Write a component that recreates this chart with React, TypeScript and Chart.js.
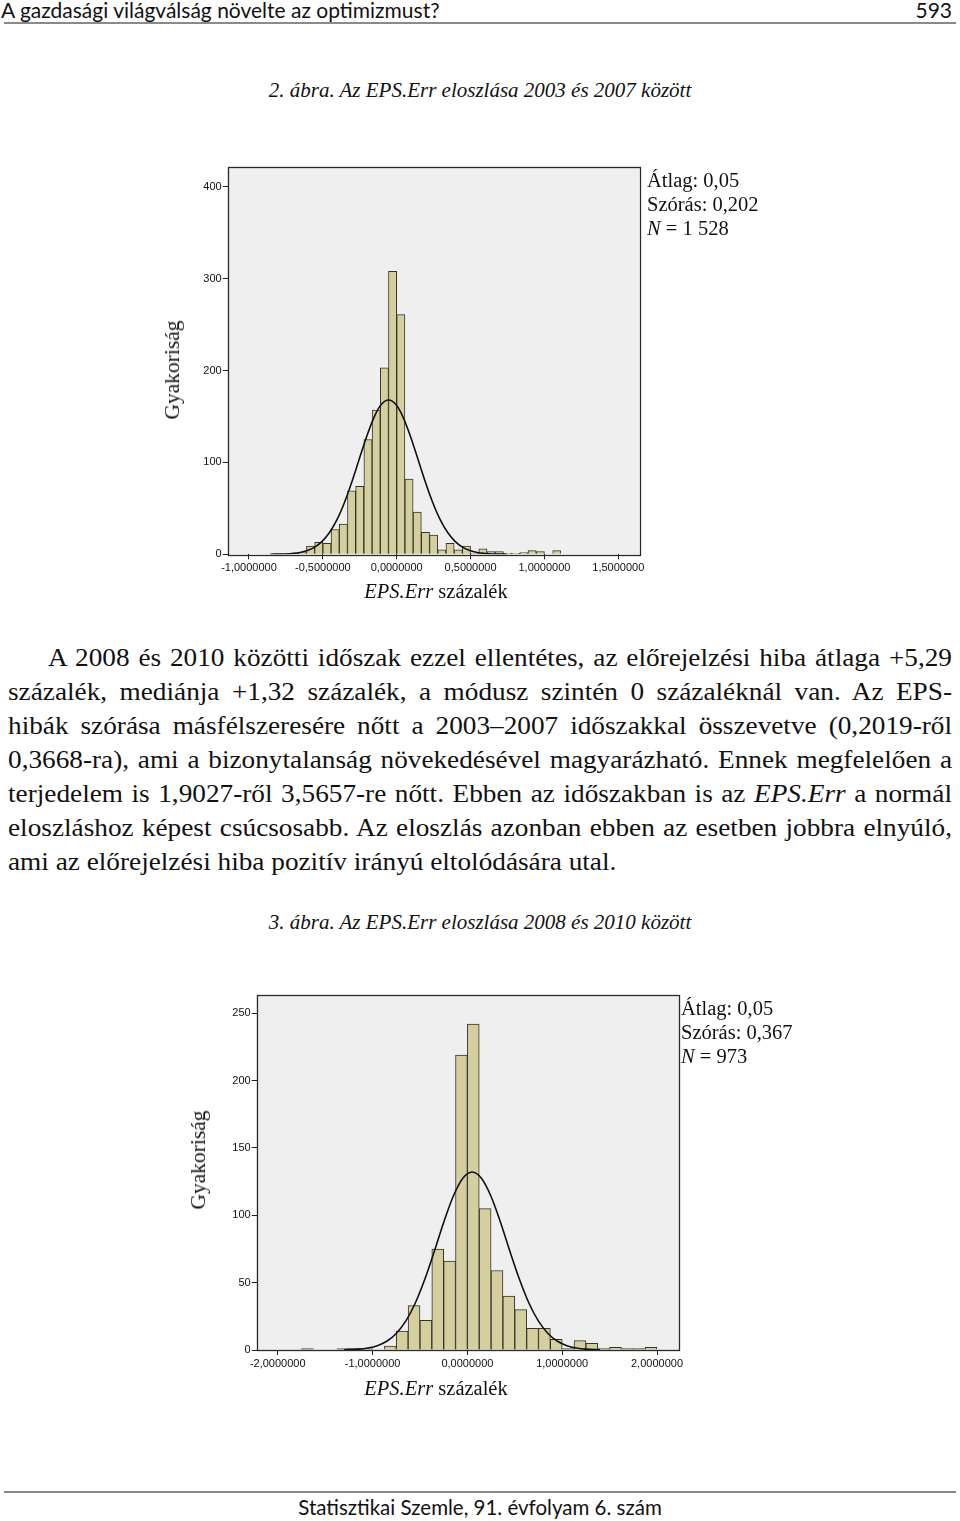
import React, { useEffect, useRef } from "react";
import { Chart, registerables } from "chart.js";

Chart.register(...registerables);

// ---------- Figure 2: 2003–2007 ----------
const bins1Lower = [
  -0.7222, -0.6667, -0.6111, -0.5556, -0.5, -0.4444, -0.3889, -0.3333, -0.2778,
  -0.2222, -0.1667, -0.1111, -0.0556, 0, 0.0556, 0.1111, 0.1667, 0.2222, 0.2778,
  0.3333, 0.3889, 0.4444, 0.5, 0.5556, 0.6111, 0.6667, 0.7222, 0.7778, 0.8333,
  0.8889, 0.9444, 1.0, 1.0556,
];
const bins1Width = 0.05556;
const counts1 = [
  1, 2, 9, 13, 12, 27, 33, 69, 74, 125, 157, 203, 308, 261, 82, 46, 24, 21, 5, 12,
  5, 9, 1, 6, 3, 3, 1, 1, 2, 4, 3, 0, 4,
];
const curve1X = [
  -0.855, -0.755, -0.705, -0.655, -0.605, -0.555, -0.505, -0.455, -0.405, -0.355,
  -0.305, -0.255, -0.205, -0.155, -0.105, -0.055, -0.005, 0.045, 0.095, 0.145,
  0.195, 0.245, 0.295, 0.345, 0.395, 0.445, 0.495, 0.545, 0.595, 0.645, 0.745,
];
const curve1Y = [
  0.07, 0.4, 0.95, 2.0, 4.1, 7.8, 14.1, 23.7, 37.4, 55.8, 78.1, 102.9, 127.5, 148.6,
  163.0, 168, 163.0, 148.6, 127.5, 102.9, 78.1, 55.8, 37.4, 23.7, 14.1, 7.8, 4.1,
  2.0, 0.95, 0.4, 0.07,
];
const xTicks1 = [-1, -0.5, 0, 0.5, 1, 1.5];
const yTicks1 = [0, 100, 200, 300, 400];
const stats1 = ["Átlag: 0,05", "Szórás: 0,202", "1 528"];

// ---------- Figure 3: 2008–2010 ----------
const bins2Lower = [
  -1.75, -1.625, -1.5, -1.375, -1.25, -1.125, -1.0, -0.875, -0.75, -0.625, -0.5,
  -0.375, -0.25, -0.125, 0, 0.125, 0.25, 0.375, 0.5, 0.625, 0.75, 0.875, 1.0, 1.125,
  1.25, 1.375, 1.5, 1.625, 1.75, 1.875,
];
const bins2Width = 0.125;
const counts2 = [
  1, 0, 0, 1, 1, 1, 0, 3, 14, 33, 22, 75, 66, 219, 242, 105, 59, 40, 30, 16, 16, 8,
  1, 7, 5, 1, 2, 1, 1, 2,
];
const curve2X = [
  -1.3, -1.15, -1.05, -0.95, -0.85, -0.75, -0.65, -0.55, -0.45, -0.35, -0.25, -0.15,
  -0.05, 0.05, 0.15, 0.25, 0.35, 0.45, 0.55, 0.65, 0.75, 0.85, 0.95, 1.05, 1.15,
  1.25, 1.4,
];
const curve2Y = [
  0.15, 0.63, 1.5, 3.2, 6.5, 12.3, 21.4, 34.7, 52.3, 73.0, 94.7, 114.0, 127.4, 132.2,
  127.4, 114.0, 94.7, 73.0, 52.3, 34.7, 21.4, 12.3, 6.5, 3.2, 1.5, 0.63, 0.15,
];
const xTicks2 = [-2, -1, 0, 1, 2];
const yTicks2 = [0, 50, 100, 150, 200, 250];
const stats2 = ["Átlag: 0,05", "Szórás: 0,367", "973"];

const paragraphLines = [
  "A 2008 és 2010 közötti időszak ezzel ellentétes, az előrejelzési hiba átlaga +5,29",
  "százalék, mediánja +1,32 százalék, a módusz szintén 0 százaléknál van. Az EPS-",
  "hibák szórása másfélszeresére nőtt a 2003–2007 időszakkal összevetve (0,2019-ről",
  "0,3668-ra), ami a bizonytalanság növekedésével magyarázható. Ennek megfelelően a",
  "@5",
  "eloszláshoz képest csúcsosabb. Az eloszlás azonban ebben az esetben jobbra elnyúló,",
  "ami az előrejelzési hiba pozitív irányú eltolódására utal.",
];

const SERIF = '"Liberation Serif", "Times New Roman", serif';
const TICKFONT = '"Liberation Sans", Arial, sans-serif';
const HEADFONT = 'Lato, "Noto Sans", sans-serif';
const PARA_SCALE = 1.09;

function fmtX(v: number) {
  const s = Math.abs(v) < 1e-9 ? "0.0000000" : v.toFixed(7);
  return s.replace(".", ",");
}

type HistProps = {
  left: number; top: number; width: number; height: number;
  pad: { left: number; top: number; right: number; bottom: number };
  yAxisW: number; xAxisH: number;
  lower: number[]; binW: number; counts: number[];
  curveX: number[]; curveY: number[];
  xMin: number; xMax: number; yMax: number;
  xTicks: number[]; yTicks: number[];
};

function Hist(p: HistProps) {
  const ref = useRef<HTMLCanvasElement>(null);
  useEffect(() => {
    const plotBg = {
      id: "plotBg",
      beforeDraw(c: any) {
        const { ctx, chartArea: a } = c;
        ctx.save();
        ctx.fillStyle = "#efefef";
        ctx.fillRect(a.left, a.top, a.right - a.left, a.bottom - a.top);
        ctx.restore();
      },
      afterDraw(c: any) {
        const { ctx, chartArea: a } = c;
        ctx.save();
        ctx.strokeStyle = "#2a2a2a";
        ctx.lineWidth = 1.3;
        ctx.strokeRect(Math.round(a.left) + 0.5, Math.round(a.top) + 0.5,
          Math.round(a.right - a.left), Math.round(a.bottom - a.top));
        ctx.restore();
      },
    };
    const chart = new Chart(ref.current as HTMLCanvasElement, {
      type: "bar",
      data: {
        datasets: [
          {
            type: "line",
            data: p.curveX.map((x, i) => ({ x, y: p.curveY[i] })),
            borderColor: "#111111",
            borderWidth: 1.6,
            pointRadius: 0,
            cubicInterpolationMode: "monotone",
            fill: false,
            order: 0,
          } as any,
          {
            type: "bar",
            data: p.lower.map((l, i) => ({ x: l + p.binW / 2, y: p.counts[i] })),
            backgroundColor: "#d5cf9f",
            borderColor: "#35342a",
            borderWidth: 1,
            barPercentage: 1,
            categoryPercentage: 1,
            order: 1,
          } as any,
        ],
      },
      options: {
        animation: false,
        responsive: false,
        maintainAspectRatio: false,
        layout: { padding: p.pad },
        plugins: { legend: { display: false }, tooltip: { enabled: false } },
        scales: {
          x: {
            type: "linear",
            min: p.xMin,
            max: p.xMax,
            offset: false,
            afterBuildTicks: (s: any) => { s.ticks = p.xTicks.map((v) => ({ value: v })); },
            afterFit: (s: any) => { s.height = p.xAxisH; },
            grid: { offset: false, drawOnChartArea: false, drawTicks: true, tickLength: 5, color: "#222", lineWidth: 1 },
            border: { display: false },
            ticks: {
              callback: (v: any) => fmtX(Number(v)),
              font: { family: TICKFONT, size: 11 },
              color: "#111",
              padding: 2,
              maxRotation: 0,
              autoSkip: false,
            },
          },
          y: {
            type: "linear",
            min: 0,
            max: p.yMax,
            afterBuildTicks: (s: any) => { s.ticks = p.yTicks.map((v) => ({ value: v })); },
            afterFit: (s: any) => { s.width = p.yAxisW; },
            grid: { drawOnChartArea: false, drawTicks: true, tickLength: 5, color: "#222", lineWidth: 1 },
            border: { display: false },
            ticks: {
              callback: (v: any) => String(v),
              font: { family: TICKFONT, size: 11 },
              color: "#111",
              padding: 1,
            },
          },
        },
      } as any,
      plugins: [plotBg],
    });
    return () => chart.destroy();
  }, []);
  return (
    <canvas
      ref={ref}
      width={p.width}
      height={p.height}
      style={{ position: "absolute", left: p.left, top: p.top, width: p.width, height: p.height }}
    />
  );
}

function Stats({ left, top, lines }: { left: number; top: number; lines: string[] }) {
  return (
    <div style={{ position: "absolute", left, top, fontFamily: SERIF, fontSize: 20.5, lineHeight: "24px", color: "#111", whiteSpace: "nowrap" }}>
      <div>{lines[0]}</div>
      <div>{lines[1]}</div>
      <div><i>N</i> = {lines[2]}</div>
    </div>
  );
}

function YTitle({ cx, cy }: { cx: number; cy: number }) {
  return (
    <div style={{ position: "absolute", left: cx, top: cy, transform: "translate(-50%, -50%) rotate(-90deg)", fontFamily: SERIF, fontSize: 21.5, color: "#111", whiteSpace: "nowrap", lineHeight: "24px" }}>
      Gyakoriság
    </div>
  );
}

function XTitle({ cx, cy }: { cx: number; cy: number }) {
  return (
    <div style={{ position: "absolute", left: cx, top: cy, transform: "translate(-50%, -50%)", fontFamily: SERIF, fontSize: 20.5, color: "#111", whiteSpace: "nowrap", lineHeight: "24px" }}>
      <i>EPS.Err</i> százalék
    </div>
  );
}

function Caption({ cy, text }: { cy: number; text: string }) {
  return (
    <div style={{ position: "absolute", left: 0, width: 960, top: cy - 12, textAlign: "center", fontFamily: SERIF, fontStyle: "italic", fontSize: 21, lineHeight: "24px", color: "#111", whiteSpace: "nowrap" }}>
      {text}
    </div>
  );
}

export default function App() {
  return (
    <div style={{ position: "absolute", left: 0, top: 0, width: 960, height: 1521, background: "#fff", overflow: "hidden" }}>
      {/* header */}
      <div style={{ position: "absolute", left: 1, top: -2, fontFamily: HEADFONT, fontSize: 21, lineHeight: "24px", color: "#111", whiteSpace: "nowrap" }}>
        A gazdasági világválság növelte az optimizmust?
      </div>
      <div style={{ position: "absolute", right: 8, top: -2, fontFamily: HEADFONT, fontSize: 21, lineHeight: "24px", color: "#111" }}>593</div>
      <div style={{ position: "absolute", left: 4, top: 22, width: 952, height: 2, background: "#8a8a8a" }} />

      <Caption cy={90} text="2. ábra. Az EPS.Err eloszlása 2003 és 2007 között" />

      <Hist
        left={150} top={155} width={520} height={440}
        pad={{ left: 27.7, top: 11.7, right: 30.7, bottom: 10.7 }}
        yAxisW={50} xAxisH={30}
        lower={bins1Lower} binW={bins1Width} counts={counts1}
        curveX={curve1X} curveY={curve1Y}
        xMin={-1.144} xMax={1.642} yMax={422}
        xTicks={xTicks1} yTicks={yTicks1}
      />
      <Stats left={647} top={168} lines={stats1} />
      <YTitle cx={172} cy={370} />
      <XTitle cx={436} cy={591} />

      {/* paragraph */}
      {paragraphLines.map((line, i) => {
        const last = i === paragraphLines.length - 1;
        const left = i === 0 ? 48 : 8;
        const w = i === 0 ? 904 : 944;
        return (
          <div
            key={i}
            style={{
              position: "absolute",
              left,
              width: w / PARA_SCALE,
              top: 641 + i * 34,
              transform: `scaleX(${PARA_SCALE})`,
              transformOrigin: "0 0",
              fontFamily: SERIF,
              fontSize: 25,
              lineHeight: "34px",
              color: "#111",
              textAlign: last ? "left" : "justify",
              textAlignLast: last ? "left" : "justify",
            } as any}
          >
            {line === "@5" ? (
              <>terjedelem is 1,9027-ről 3,5657-re nőtt. Ebben az időszakban is az <i>EPS.Err</i> a normál</>
            ) : line}
          </div>
        );
      })}

      <Caption cy={922} text="3. ábra. Az EPS.Err eloszlása 2008 és 2010 között" />

      <Hist
        left={180} top={985} width={520} height={400}
        pad={{ left: 26.7, top: 10, right: 21, bottom: 10 }}
        yAxisW={50} xAxisH={25}
        lower={bins2Lower} binW={bins2Width} counts={counts2}
        curveX={curve2X} curveY={curve2Y}
        xMin={-2.222} xMax={2.232} yMax={263.6}
        xTicks={xTicks2} yTicks={yTicks2}
      />
      <Stats left={681} top={996} lines={stats2} />
      <YTitle cx={198} cy={1160} />
      <XTitle cx={436} cy={1388} />

      {/* footer */}
      <div style={{ position: "absolute", left: 4, top: 1491, width: 952, height: 2, background: "#8a8a8a" }} />
      <div style={{ position: "absolute", left: 0, width: 960, top: 1495, textAlign: "center", fontFamily: HEADFONT, fontSize: 20.5, lineHeight: "24px", color: "#111" }}>
        Statisztikai Szemle, 91. évfolyam 6. szám
      </div>
    </div>
  );
}
